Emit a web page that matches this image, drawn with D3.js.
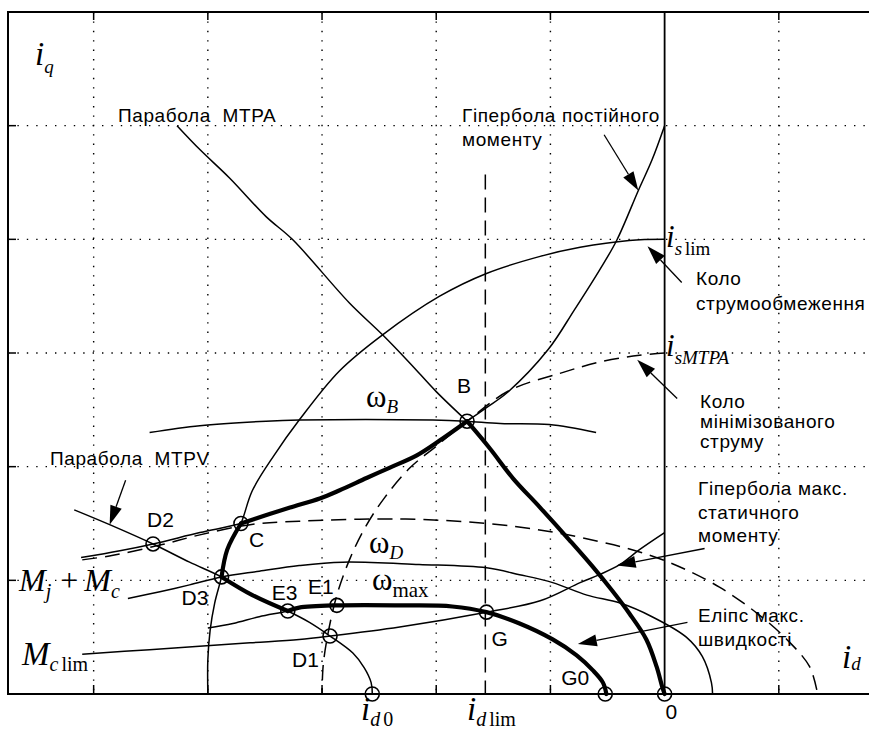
<!DOCTYPE html>
<html>
<head>
<meta charset="utf-8">
<script src="https://cdn.jsdelivr.net/npm/d3@7"></script>
<style>
  body { margin: 0; background: #fff; }
  svg { display: block; }
</style>
</head>
<body>
<svg id="chart" width="869" height="731"></svg>
<script>
// curves, [id, iq] in grid units (one grid cell = 1)
let mtpaParabola = [[-4.27,5.00],[-4.07,4.79],[-3.81,4.54],[-3.49,4.20],[-3.26,4.00],[-2.76,3.44],[-2.47,3.16],[-2.23,2.91],[-2.00,2.66],[-1.73,2.40],
  [-1.53,2.16],[-1.33,1.90],[-1.09,1.64],[-0.83,1.35],[-0.63,1.12],[-0.46,0.91],[-0.31,0.71],[-0.16,0.48],[-0.07,0.24],[-0.02,0.06],[0,0]];
let torqueHyperbola = [[0,5.00],[-0.11,4.70],[-0.23,4.43],[-0.42,3.99],[-0.57,3.73],[-0.79,3.38],[-1.02,3.03],[-1.38,2.65],[-1.56,2.52],[-1.73,2.40],
  [-1.97,2.23],[-2.17,2.10],[-2.41,1.99],[-2.61,1.90],[-2.85,1.79],[-3.02,1.72],[-3.28,1.64],[-3.50,1.57],[-3.71,1.50],[-4.07,1.42],[-4.48,1.32],[-4.77,1.26],[-5.11,1.20]];
let currentLimitCircle = [[0,4.00],[-0.31,3.99],[-0.74,3.93],[-1.09,3.85],[-1.56,3.70],[-1.97,3.50],[-2.47,3.16],[-2.85,2.84],[-3.20,2.41],[-3.42,2.10],
  [-3.61,1.79],[-3.71,1.50],[-3.83,1.27],[-3.88,1.03],[-3.94,0.80],[-3.98,0.56],[-4.00,0.30],[-4.00,0]];
let minCurrentCircle = [[0,3.00],[-0.22,2.98],[-0.57,2.92],[-0.92,2.82],[-1.36,2.67],[-1.73,2.40],[-2.00,2.18],[-2.23,1.99],[-2.45,1.73],[-2.62,1.47],
  [-2.76,1.18],[-2.87,0.87],[-2.95,0.52],[-2.99,0.25],[-3.00,0]];
let outerDashed = [[-5.10,1.18],[-4.83,1.22],[-4.42,1.31],[-4.07,1.40],[-3.63,1.49],[-3.20,1.52],[-2.32,1.54],[-1.56,1.50],[-1.01,1.43],[-0.57,1.34],
  [-0.22,1.25],[0.13,1.12],[0.48,0.94],[0.81,0.71],[1.07,0.48],[1.27,0.24],[1.34,0]];
let omegaB = [[-4.51,2.30],[-4.07,2.36],[-3.49,2.40],[-3.20,2.41],[-2.03,2.41],[-1.74,2.40],[-1.44,2.38],[-1.01,2.37],[-0.60,2.30]];
let omegaD = [[-4.70,0.84],[-4.42,0.90],[-4.16,0.96],[-3.88,1.03],[-3.55,1.08],[-3.20,1.13],[-2.82,1.16],[-2.15,1.14],[-1.56,1.11],[-1.27,1.05],
  [-0.98,0.98],[-0.68,0.87],[-0.39,0.80],[-0.11,0.68],[0.19,0.50],[0.33,0.33],[0.41,0.10],[0.42,0]];
let omegaMax = [[-4.00,0.58],[-3.78,0.62],[-3.55,0.68],[-3.30,0.73],[-3.20,0.76],[-2.87,0.78],[-2.26,0.78],[-1.86,0.77],[-1.56,0.72],[-1.27,0.62],
  [-0.98,0.48],[-0.77,0.34],[-0.63,0.21],[-0.54,0.10],[-0.51,0]];
let mtpvParabola = [[-5.17,1.62],[-4.86,1.49],[-4.48,1.32],[-4.16,1.16],[-3.88,1.03],[-3.61,0.87],[-3.30,0.73],[-3.11,0.63],[-2.93,0.51],[-2.73,0.36],
  [-2.63,0.23],[-2.57,0.10],[-2.56,0]];
let maxStaticHyperbola = [[-5.10,0.35],[-4.51,0.39],[-3.63,0.45],[-3.20,0.48],[-2.93,0.51],[-2.32,0.59],[-1.56,0.72],[-1.09,0.82],[-0.74,0.98],
  [-0.57,1.05],[-0.39,1.14],[-0.22,1.27],[0,1.42]];
let idLimLine = [[-1.57,4.57],[-1.57,0]];

// optimal trajectory (thick), piece by piece
let pathBto0 = mtpaParabola.slice(9);
let pathBtoC = torqueHyperbola.slice(9, 19);
let pathCtoD3 = currentLimitCircle.slice(11, 14);
let pathD3toE3 = mtpvParabola.slice(4, 7);
let pathE3toG0 = omegaMax.slice(3);

let pointNames = ["B", "C", "D2", "D3", "E3", "E1", "D1", "G", "G0", "0", "id0"];
let pointValues = [[-1.73,2.40],[-3.71,1.50],[-4.48,1.32],[-3.88,1.03],[-3.30,0.73],[-2.87,0.78],[-2.93,0.51],[-1.56,0.72],[-0.52,0],[0,0],[-2.56,0]];

let gridX = [-5, -4, -3, -2, -1, 1];
let gridY = [1, 2, 3, 4, 5];

let svg = d3.select("#chart");
let sans = "'Liberation Sans', Arial, sans-serif";
let serif = "'Liberation Serif', 'Times New Roman', serif";

let x = d3.scaleLinear().domain([-5.75, 2]).range([8, 893]);
let y = d3.scaleLinear().domain([0, 6]).range([694, 12]);

let line = d3.line()
  .x(d => x(d[0]))
  .y(d => y(d[1]))
  .curve(d3.curveCatmullRom.alpha(0.5));

// dotted grid
svg.selectAll(".gx").data(gridX).enter().append("line")
  .attr("x1", d => x(d)).attr("x2", d => x(d))
  .attr("y1", y(6)).attr("y2", y(0))
  .style("stroke", "#000").style("stroke-width", 1.4)
  .style("stroke-dasharray", "1.4,8");
svg.selectAll(".gy").data(gridY).enter().append("line")
  .attr("x1", x(-5.75)).attr("x2", x(2))
  .attr("y1", d => y(d)).attr("y2", d => y(d))
  .style("stroke", "#000").style("stroke-width", 1.4)
  .style("stroke-dasharray", "1.4,8");

// ticks (inside the frame)
svg.selectAll(".tl").data(gridY).enter().append("line")
  .attr("x1", x(-5.75)).attr("x2", x(-5.75) + 8)
  .attr("y1", d => y(d)).attr("y2", d => y(d))
  .style("stroke", "#000").style("stroke-width", 1.5);
svg.selectAll(".tt").data(gridX).enter().append("line")
  .attr("x1", d => x(d)).attr("x2", d => x(d))
  .attr("y1", y(6)).attr("y2", y(6) + 8)
  .style("stroke", "#000").style("stroke-width", 1.5);
svg.selectAll(".tb").data(gridX).enter().append("line")
  .attr("x1", d => x(d)).attr("x2", d => x(d))
  .attr("y1", y(0)).attr("y2", y(0) - 9)
  .style("stroke", "#000").style("stroke-width", 1.5);

// frame and iq axis
svg.append("path")
  .attr("d", "M" + x(2) + "," + y(6) + "H" + x(-5.75) + "V" + y(0) + "H" + x(2))
  .style("fill", "none").style("stroke", "#000").style("stroke-width", 2);
svg.append("line")
  .attr("x1", x(0)).attr("x2", x(0)).attr("y1", y(6)).attr("y2", y(0))
  .style("stroke", "#000").style("stroke-width", 1.8);

// thin curves
let thin = [mtpaParabola.slice(0, 10), torqueHyperbola, currentLimitCircle, omegaB, omegaD, omegaMax, mtpvParabola, maxStaticHyperbola];
svg.selectAll(".thin").data(thin).enter().append("path")
  .attr("d", line)
  .style("fill", "none").style("stroke", "#000").style("stroke-width", 1.5);

// dashed curves
svg.selectAll(".dashed").data([minCurrentCircle, outerDashed, idLimLine]).enter().append("path")
  .attr("d", line)
  .style("fill", "none").style("stroke", "#000").style("stroke-width", 1.5)
  .style("stroke-dasharray", "15,8");

// thick trajectory
svg.selectAll(".thick").data([pathBto0, pathBtoC, pathCtoD3, pathD3toE3, pathE3toG0]).enter().append("path")
  .attr("d", line)
  .style("fill", "none").style("stroke", "#000").style("stroke-width", 4.2)
  .style("stroke-linecap", "round").style("stroke-linejoin", "round");

// point markers
svg.selectAll(".pt").data(pointValues).enter().append("circle")
  .attr("cx", d => x(d[0])).attr("cy", d => y(d[1])).attr("r", 7)
  .style("fill", "none").style("stroke", "#000").style("stroke-width", 1.6);

// point labels: offsets from the marker, in pixels
let pointLabelOffsets = {B: [-10, -28], C: [8, 23], D2: [-6, -17], D3: [-40, 28], E3: [-16, -11], E1: [-29, -11], D1: [-38, 31], G: [5, 34], G0: [-44, -9], "0": [1, 25]};
pointNames.forEach(function(name, i) {
  if (!(name in pointLabelOffsets)) return;
  let off = pointLabelOffsets[name];
  svg.append("text")
    .attr("x", x(pointValues[i][0]) + off[0])
    .attr("y", y(pointValues[i][1]) + off[1])
    .text(name)
    .style("font-family", sans)
    .style("font-size", "21px");
});

// arrows
let arrows = [
  [[-0.53,4.92],[-0.23,4.43]],
  [[0.15,3.62],[-0.15,3.94]],
  [[0.11,2.60],[-0.24,2.94]],
  [[0.35,1.28],[-0.42,1.13]],
  [[0.20,0.63],[-0.76,0.44]],
  [[-4.72,1.88],[-4.86,1.49]]
];
arrows.forEach(function(a) {
  let x1 = x(a[0][0]), y1 = y(a[0][1]), x2 = x(a[1][0]), y2 = y(a[1][1]);
  let ang = Math.atan2(y2 - y1, x2 - x1);
  let len = 19, half = 6;
  let bx = x2 - len * Math.cos(ang), by = y2 - len * Math.sin(ang);
  svg.append("line")
    .attr("x1", x1).attr("y1", y1).attr("x2", bx).attr("y2", by)
    .style("stroke", "#000").style("stroke-width", 1.3);
  svg.append("path")
    .attr("d", "M" + x2 + "," + y2 +
      "L" + (bx + half * Math.sin(ang)) + "," + (by - half * Math.cos(ang)) +
      "L" + (bx - half * Math.sin(ang)) + "," + (by + half * Math.cos(ang)) + "Z")
    .style("fill", "#000");
});

// text labels
function textBlock(x0, y0, lines, lh) {
  lines.forEach(function(t, i) {
    svg.append("text")
      .attr("x", x0).attr("y", y0 + i * lh)
      .text(t)
      .style("white-space", "pre")
      .style("font-family", sans)
      .style("font-size", "19px")
      .style("letter-spacing", "0.6px");
  });
}
textBlock(118, 122, ["Парабола  MTPA"], 0);
textBlock(462, 122, ["Гіпербола постійного", "моменту"], 24);
textBlock(696, 285, ["Коло", "струмообмеження"], 25);
textBlock(700, 408, ["Коло", "мінімізованого", "струму"], 20);
textBlock(698, 495, ["Гіпербола макс.", "статичного", "моменту"], 23.5);
textBlock(698, 622, ["Еліпс макс.", "швидкості"], 24);
textBlock(50, 465, ["Парабола  MTPV"], 0);

// math labels
function mathText(x0, y0, segs) {
  let t = svg.append("text").attr("x", x0).attr("y", y0).style("font-family", serif);
  segs.forEach(function(s) {
    t.append("tspan")
      .attr("dx", s.dx || 0).attr("dy", s.dy || 0)
      .style("font-size", s.size + "px")
      .style("font-style", s.it ? "italic" : "normal")
      .text(s.t);
  });
}
mathText(35, 65, [{t: "i", size: 33, it: 1}, {t: "q", size: 19, it: 1, dy: 8}]);
mathText(842, 668, [{t: "i", size: 33, it: 1}, {t: "d", size: 19, it: 1, dy: 2}]);
mathText(666, 247, [{t: "i", size: 31, it: 1}, {t: "s", size: 19, it: 1, dy: 8}, {t: "lim", size: 19, dx: 3}]);
mathText(666, 356, [{t: "i", size: 31, it: 1}, {t: "sMTPA", size: 19, it: 1, dy: 8}]);
mathText(361, 720, [{t: "i", size: 33, it: 1}, {t: "d", size: 20, it: 1, dy: 6}, {t: "0", size: 20, dx: 3}]);
mathText(467, 720, [{t: "i", size: 33, it: 1}, {t: "d", size: 20, it: 1, dy: 6}, {t: "lim", size: 20, dx: 3}]);
mathText(19, 591, [{t: "M", size: 32, it: 1}, {t: "j", size: 20, it: 1, dy: 7}, {t: "+", size: 32, dx: 9, dy: -7}, {t: "M", size: 32, it: 1, dx: 6}, {t: "c", size: 20, it: 1, dy: 7}]);
mathText(22, 665, [{t: "M", size: 33, it: 1}, {t: "c", size: 20, it: 1, dy: 6}, {t: "lim", size: 20, dx: 3}]);
mathText(366, 407, [{t: "ω", size: 31}, {t: "B", size: 19, it: 1, dy: 6}]);
mathText(369, 553, [{t: "ω", size: 31}, {t: "D", size: 19, it: 1, dy: 6}]);
mathText(372, 590, [{t: "ω", size: 31}, {t: "max", size: 21, dy: 7}]);
</script>
</body>
</html>
